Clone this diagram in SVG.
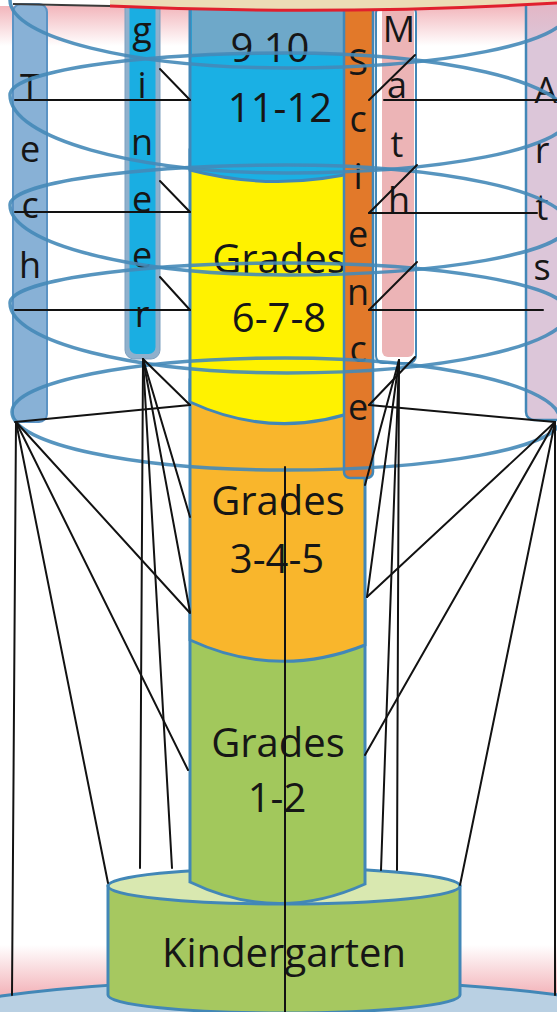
<svg xmlns="http://www.w3.org/2000/svg" width="557" height="1012" viewBox="0 0 557 1012">
  <defs>
    <linearGradient id="glowTop" x1="0" y1="0" x2="0" y2="1">
      <stop offset="0" stop-color="#f0a9b0" stop-opacity="0.85"/>
      <stop offset="1" stop-color="#f0a9b0" stop-opacity="0"/>
    </linearGradient>
    <linearGradient id="glowBottom" x1="0" y1="0" x2="0" y2="1">
      <stop offset="0" stop-color="#f2b0b6" stop-opacity="0"/>
      <stop offset="1" stop-color="#f2b0b6" stop-opacity="0.95"/>
    </linearGradient>
    <linearGradient id="artsFill" x1="0" y1="0" x2="0" y2="1">
      <stop offset="0" stop-color="#e6b0bd"/>
      <stop offset="0.12" stop-color="#dcc6d9"/>
      <stop offset="1" stop-color="#dcc6d9"/>
    </linearGradient>
  </defs>
  <style>
    .edge { stroke: #4287b7; stroke-width: 3; }
    .ring { fill: none; stroke: #4589b8; stroke-width: 3.5; stroke-opacity: 0.9; }
    .lbl { font-family: "Open Sans", "Liberation Sans", sans-serif; font-size: 40px; fill: #161616; text-anchor: middle; }
    .vlbl { font-family: "Open Sans", "Liberation Sans", sans-serif; font-size: 36px; fill: #161616; text-anchor: middle; }
    .conn line { stroke: #121212; stroke-width: 2; stroke-linecap: round; }
  </style>

  <!-- backdrop -->
  <rect x="0" y="0" width="557" height="1012" fill="#ffffff"/>
  <rect x="0" y="6" width="557" height="40" fill="url(#glowTop)"/>
  <rect x="0" y="945" width="557" height="50" fill="url(#glowBottom)"/>
  <ellipse id="base" cx="284" cy="1035" rx="400" ry="55" fill="#b9d0e3" stroke="#4287b7" stroke-width="3"/>

  <!-- Kindergarten -->
  <g id="kindergarten">
    <path d="M108,886 L108,995 A176,18 0 0 0 460,995 L460,886 Z" fill="#a6c860" class="edge"/>
    <ellipse cx="284" cy="886" rx="176" ry="18" fill="#d9e8b0" class="edge"/>
    <text class="lbl" x="284" y="967">Kindergarten</text>
  </g>

  <!-- central grade column, drawn bottom-up so each upper cap overlaps -->
  <g id="grades-1-2">
    <path d="M190,600 H365 V884 Q277,924 190,882 Z" fill="#a2c85c" class="edge"/>
    <text class="lbl" x="278" y="757">Grades</text>
    <text class="lbl" x="277" y="812">1-2</text>
  </g>
  <g id="grades-3-5">
    <path d="M190,380 H365 V645 Q277,680 190,640 Z" fill="#f9b62c" class="edge"/>
    <text class="lbl" x="278" y="515">Grades</text>
    <text class="lbl" x="277" y="573">3-4-5</text>
  </g>
  <g id="grades-6-8">
    <path d="M190,150 H365 V408 Q277,442 190,402 Z" fill="#fff200" class="edge"/>
    <text class="lbl" x="279" y="273">Grades</text>
    <text class="lbl" x="279" y="332">6-7-8</text>
  </g>
  <g id="grades-9-12">
    <path d="M190,8 H365 V170 Q278,193 190,170 Z" fill="#1ab0e4" class="edge"/>
    <rect x="192" y="9" width="171" height="45" fill="#6ea8c9"/>
    <text class="lbl" x="270" y="62">9 10</text>
    <text class="lbl" x="280" y="122">11-12</text>
  </g>

  <!-- side subject columns -->
  <g id="tech">
    <rect x="13" y="4" width="34" height="418" rx="8" fill="#88b1d6" stroke="#5b93c4" stroke-width="2"/>
    <text class="vlbl"><tspan x="30" y="100">T</tspan><tspan x="30" y="162">e</tspan><tspan x="30" y="218">c</tspan><tspan x="30" y="278">h</tspan></text>
  </g>
  <g id="engineer">
    <rect x="125" y="-10" width="35" height="369" rx="9" fill="#8fb0cc" stroke="#7d9fbf" stroke-width="1"/>
    <rect x="129.5" y="-10" width="26" height="364" rx="7" fill="#1aaee2"/>
    <text class="vlbl"><tspan x="142" y="43">g</tspan><tspan x="142" y="98">i</tspan><tspan x="142" y="155">n</tspan><tspan x="142" y="212">e</tspan><tspan x="142" y="268">e</tspan><tspan x="142" y="327">r</tspan></text>
  </g>
  <g id="science">
    <rect x="344" y="-6" width="29" height="484" rx="6" fill="#e2792a" stroke="#4287b7" stroke-width="2.5"/>
    <text class="vlbl"><tspan x="358" y="75">S</tspan><tspan x="358" y="132">c</tspan><tspan x="358" y="189">i</tspan><tspan x="358" y="247">e</tspan><tspan x="358" y="305">n</tspan><tspan x="358" y="362">c</tspan><tspan x="358" y="420">e</tspan></text>
  </g>
  <g id="math">
    <rect x="376" y="6" width="40" height="357" rx="7" fill="#ffffff" stroke="#4287b7" stroke-width="2"/>
    <rect x="382" y="6" width="32" height="351" rx="6" fill="#ecb4b6"/>
    <text class="vlbl"><tspan x="399" y="42">M</tspan><tspan x="397" y="98">a</tspan><tspan x="397" y="157">t</tspan><tspan x="399" y="213">h</tspan></text>
  </g>
  <g id="arts">
    <rect x="526" y="-10" width="40" height="430" rx="8" fill="url(#artsFill)" stroke="#4287b7" stroke-width="2.5"/>
    <text class="vlbl"><tspan x="546" y="103">A</tspan><tspan x="542" y="163">r</tspan><tspan x="542" y="220">t</tspan><tspan x="542" y="280">s</tspan></text>
  </g>

  <!-- rings wrapping the columns -->
  <g id="rings">
    <path class="ring" d="M10,0 C10,-27.6 134,-50 287,-50 C442,-50 568,-22 568,12 C568,43 442,68 287,68 C134,68 10,37.6 10,0 Z"/>
    <path class="ring" d="M10,95 C10,71.8 134,53 287,53 C442,53 568,82 568,118 C568,148.4 442,173 287,173 C134,173 10,138 10,95 Z"/>
    <path class="ring" d="M10,205 C10,183 134,165 287,165 C442,165 568,192 568,225 C568,252.6 442,275 287,275 C134,275 10,243.7 10,205 Z"/>
    <path class="ring" d="M10,303 C10,281 134,263 287,263 C442,263 568,285 568,312 C568,345.7 442,373 287,373 C134,373 10,341.7 10,303 Z"/>
    <path class="ring" d="M12,412 C12,382 134,358 285,358 C437,358 560,386 560,420 C560,447.6 437,470 285,470 C134,470 12,444 12,412 Z"/>
  </g>

  <!-- connectors -->
  <g id="connectors" class="conn">
    <line x1="15" y1="100" x2="190" y2="100"/>
    <line x1="160" y1="69" x2="190" y2="100"/>
    <line x1="15" y1="212" x2="190" y2="212"/>
    <line x1="160" y1="181" x2="190" y2="212"/>
    <line x1="15" y1="310" x2="190" y2="310"/>
    <line x1="160" y1="277" x2="190" y2="310"/>
    <line x1="15" y1="422" x2="190" y2="405"/>
    <line x1="143" y1="359" x2="190" y2="405"/>
    <line x1="143" y1="359" x2="190" y2="517"/>
    <line x1="143" y1="359" x2="190" y2="612"/>
    <line x1="143" y1="359" x2="172" y2="868"/>
    <line x1="143" y1="359" x2="140" y2="868"/>
    <line x1="16" y1="422" x2="12" y2="995"/>
    <line x1="16" y1="422" x2="108" y2="883"/>
    <line x1="16" y1="422" x2="188" y2="770"/>
    <line x1="16" y1="422" x2="190" y2="613"/>

    <line x1="384" y1="100" x2="557" y2="100"/>
    <line x1="369" y1="100" x2="415" y2="55"/>
    <line x1="369" y1="213" x2="537" y2="213"/>
    <line x1="369" y1="213" x2="417" y2="165"/>
    <line x1="369" y1="310" x2="543" y2="310"/>
    <line x1="369" y1="310" x2="417" y2="262"/>
    <line x1="369" y1="405" x2="555" y2="422"/>
    <line x1="369" y1="405" x2="415" y2="357"/>
    <line x1="399" y1="360" x2="365" y2="485"/>
    <line x1="399" y1="360" x2="367" y2="597"/>
    <line x1="399" y1="360" x2="381" y2="870"/>
    <line x1="399" y1="360" x2="397" y2="870"/>
    <line x1="555" y1="422" x2="367" y2="597"/>
    <line x1="555" y1="422" x2="365" y2="755"/>
    <line x1="555" y1="422" x2="460" y2="885"/>
    <line x1="555" y1="422" x2="555" y2="995"/>

    <line x1="285" y1="467" x2="285" y2="1012"/>
  </g>

  <!-- top rim -->
  <path d="M110,0 H557 V3 Q330,16 110,6 Z" fill="#ecdcb6"/>
  <path d="M13,4 L110,6" stroke="#3a3a3a" stroke-width="2" fill="none"/>
  <path d="M110,6 Q330,16 557,3" stroke="#e0202e" stroke-width="3" fill="none"/>
</svg>
